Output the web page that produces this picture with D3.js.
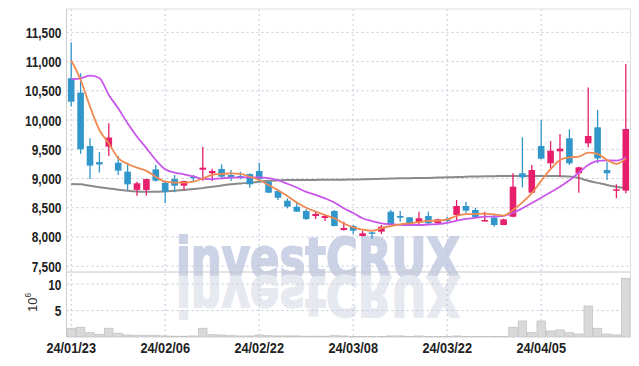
<!DOCTYPE html>
<meta charset="utf-8" />
<style>
  body { margin: 0; background: #fff; }
  .axis text { font-family: "Liberation Sans", Arial, sans-serif; font-weight: bold; fill: #222; }
</style>
<body>
<script src="https://d3js.org/d3.v7.min.js"></script>
<script>
// trading days shown (Korea, 2024)
var dates = ["24/01/23","24/01/24","24/01/25","24/01/26","24/01/29","24/01/30","24/01/31","24/02/01","24/02/02","24/02/05",
  "24/02/06","24/02/07","24/02/08","24/02/13","24/02/14","24/02/15","24/02/16","24/02/19","24/02/20","24/02/21",
  "24/02/22","24/02/23","24/02/26","24/02/27","24/02/28","24/02/29","24/03/04","24/03/05","24/03/06","24/03/07",
  "24/03/08","24/03/11","24/03/12","24/03/13","24/03/14","24/03/15","24/03/18","24/03/19","24/03/20","24/03/21",
  "24/03/22","24/03/25","24/03/26","24/03/27","24/03/28","24/03/29","24/04/01","24/04/02","24/04/03","24/04/04",
  "24/04/05","24/04/08","24/04/09","24/04/11","24/04/12","24/04/15","24/04/16","24/04/17","24/04/18","24/04/19"];

var opens  = [10715,10470,9556,9280,9544,9270,9117,8805,8803,9157, 8928,8991,8877,9030,9150,9090,9163,9060,9043,9077,
  9128,8945,8786,8620,8517,8444,8358,8324,8444,8119, 8187,8016,8078,8090,8432,8358,8336,8244,8358,8233,
  8301,8375,8529,8461,8268,8330,8204,8346,9089,8757, 9556,9260,9465,9688,9089,9602,9876,9145,8792,8792];
var closes = [10314,9500,9220,9240,9700,9135,8900,8918,8990,8962, 8774,8877,8957,9010,9185,9128,9031,9020,9010,8900,
  8986,8757,8671,8517,8432,8307,8393,8358,8187,8153, 8107,8062,8068,8175,8221,8330,8204,8319,8233,8301,
  8280,8529,8449,8336,8290,8204,8301,8860,9020,9145, 9339,9476,9510,9260,9191,9727,9345,9089,8815,9847];
var highs  = [11330,10800,9690,9450,9945,9385,9270,8945,8995,9230, 8945,9060,8960,9060,9545,9165,9243,9145,9116,9085,
  9270,8950,8820,8661,8603,8473,8432,8387,8460,8261, 8204,8107,8090,8204,8461,8444,8340,8432,8432,8310,
  8346,8632,8603,8501,8432,8375,8310,9089,9705,9231, 10000,9642,9762,9842,9200,10555,10172,9288,8900,10960];
var lows   = [10230,9420,8990,9100,9385,9060,8800,8706,8706,8950, 8580,8765,8803,8935,8962,8957,9003,8957,8986,8843,
  8945,8750,8632,8490,8430,8290,8307,8273,8180,8107, 8050,8010,7970,8050,8215,8261,8200,8204,8204,8225,
  8233,8290,8404,8330,8265,8175,8200,8336,8849,8746, 9330,9163,9031,9231,8757,9533,9260,8974,8661,8746];

// moving-average lines
var maShort = [11020,10690,10230,9830,9600,9350,9250,9185,9130,9030, 8945,8930,8928,8945,9000,9060,9077,9089,9080,9030,
  8974,8889,8800,8700,8590,8500,8432,8375,8320,8230, 8165,8125,8105,8150,8187,8216,8233,8255,8275,8278,
  8300,8360,8390,8393,8400,8385,8365,8460,8590,8750, 8960,9160,9317,9360,9375,9441,9420,9317,9250,9345];
var maMid = [10697,10714,10760,10720,10429,10200,9945,9715,9520,9317, 9160,9100,9072,9035,8995,8990,9003,9014,9020,9020,
  9020,9005,8970,8910,8845,8770,8720,8660,8590,8490, 8410,8320,8270,8233,8216,8205,8204,8204,8212,8220,
  8240,8280,8310,8325,8346,8346,8360,8410,8490,8580, 8670,8765,8860,8970,9100,9230,9300,9310,9305,9363];
var maLong = [8906,8900,8875,8852,8830,8808,8790,8778,8774,8774, 8776,8790,8805,8820,8835,8860,8880,8900,8915,8928,
  8945,8960,8968,8974,8974,8975,8976,8977,8978,8980, 8982,8985,8990,8995,9000,9003,9005,9008,9010,9015,
  9020,9025,9030,9035,9038,9040,9043,9043,9043,9043, 9043,9043,9040,9035,9010,8960,8925,8890,8860,8835];

// volume, millions of shares
var volume = [1.65,1.84,0.82,0.5,1.65,0.7,0.38,0.33,0.33,0.33, 0.2,0.15,0.15,0.2,1.65,0.44,0.38,0.25,0.2,0.2,
  0.38,0.25,0.2,0.2,0.2,0.15,0.15,0.15,0.25,0.2, 0.1,0.1,0.1,0.1,0.2,0.2,0.1,0.2,0.1,0.1,
  0.1,0.2,0.1,0.1,0.1,0.1,0.1,1.84,3.03,0.82, 3.03,1.14,1.33,0.82,0.57,5.87,1.65,0.57,0.38,11.1];

var priceTicks = [7500,8000,8500,9000,9500,10000,10500,11000,11500];
var volTicks = [5,10];

var width = 639, height = 366;
var plotLeft = 66.5, plotRight = 630.5, plotTop = 9, priceBottom = 272, volBottom = 337;

var svg = d3.select("body").append("svg").attr("width", width).attr("height", height);

var x = d3.scaleBand().domain(d3.range(dates.length)).range([plotLeft, plotRight]).padding(0);
var y = d3.scaleLinear().domain([7400, 11900]).range([priceBottom, plotTop]);
var yv = d3.scaleLinear().domain([0, 12.3]).range([volBottom, priceBottom]);
var cx = function(i) { return x(i) + x.bandwidth() / 2; };

var gridColor = "#c4c8d8";

// watermark + reflection
function mark(g, fill) {
  return g.append("text").attr("x", 176).attr("y", 277).text("investCRUX")
    .attr("font-family", "'DejaVu Sans', sans-serif").attr("font-weight", "bold")
    .attr("font-size", 56).attr("textLength", 284).attr("lengthAdjust", "spacingAndGlyphs")
    .attr("fill", fill).attr("stroke", fill).attr("stroke-width", 2);
}
var wm = svg.append("g");
mark(wm, "#ccd3e6");
mark(wm, "#e7e9f1").attr("transform", "translate(0," + (2 * 277) + ") scale(1,-1)");

// horizontal grid
svg.append("g").selectAll("line").data(priceTicks).enter().append("line")
  .attr("x1", plotLeft).attr("x2", plotRight).attr("y1", d => y(d)).attr("y2", d => y(d))
  .attr("stroke", gridColor).attr("stroke-dasharray", "2,3");
svg.append("g").selectAll("line").data(volTicks).enter().append("line")
  .attr("x1", plotLeft).attr("x2", plotRight).attr("y1", d => yv(d)).attr("y2", d => yv(d))
  .attr("stroke", gridColor).attr("stroke-dasharray", "2,3");

// vertical grid at labelled dates
var labelIdx = d3.range(0, dates.length, 10);
svg.append("g").selectAll("line").data(labelIdx).enter().append("line")
  .attr("x1", d => cx(d)).attr("x2", d => cx(d)).attr("y1", plotTop).attr("y2", volBottom)
  .attr("stroke", gridColor).attr("stroke-dasharray", "2,3");

// frame
svg.append("path").attr("d", "M" + plotLeft + "," + volBottom + "V" + plotTop + "H" + plotRight + "V" + volBottom)
  .attr("fill", "none").attr("stroke", "#ddd");
svg.append("line").attr("x1", plotLeft).attr("x2", plotRight).attr("y1", priceBottom).attr("y2", priceBottom)
  .attr("stroke", "#c8c8c8");
svg.append("line").attr("x1", plotLeft).attr("x2", plotLeft).attr("y1", plotTop).attr("y2", volBottom)
  .attr("stroke", "#ccc");

// volume bars
svg.append("g").selectAll("rect").data(volume).enter().append("rect")
  .attr("x", (d, i) => x(i) + 0.5).attr("width", x.bandwidth() - 1)
  .attr("y", d => yv(d)).attr("height", d => volBottom - yv(d))
  .attr("fill", "#d9d9d9").attr("stroke", "#c2c2c2").attr("stroke-width", 0.8);

// moving averages
var line = function(arr) {
  return d3.line().x((d, i) => cx(i)).y(d => y(d)).curve(d3.curveMonotoneX)(arr);
};
svg.append("path").attr("d", line(maLong)).attr("fill", "none").attr("stroke", "#8a8a8a").attr("stroke-width", 2);

// candles
var up = "#e61e6b", down = "#3196c9";
var isUp = i => closes[i] >= opens[i];
var candles = svg.append("g").selectAll("g").data(dates).enter().append("g");
candles.append("line")
  .attr("x1", (d, i) => cx(i)).attr("x2", (d, i) => cx(i))
  .attr("y1", (d, i) => y(highs[i])).attr("y2", (d, i) => y(lows[i]))
  .attr("stroke", (d, i) => isUp(i) ? up : down).attr("stroke-width", 1.3);
candles.append("rect")
  .attr("x", (d, i) => cx(i) - 3.3).attr("width", 6.6)
  .attr("y", (d, i) => y(Math.max(opens[i], closes[i])))
  .attr("height", (d, i) => Math.max(1.5, Math.abs(y(opens[i]) - y(closes[i]))))
  .attr("fill", (d, i) => isUp(i) ? up : down);

svg.append("path").attr("d", line(maMid)).attr("fill", "none").attr("stroke", "#c956ea").attr("stroke-width", 1.8);
svg.append("path").attr("d", line(maShort)).attr("fill", "none").attr("stroke", "#f08a50").attr("stroke-width", 1.8);

// axes (text squeezed horizontally to mimic the condensed face)
var yAxis = svg.append("g").attr("class", "axis").attr("transform", "translate(" + plotLeft + ",0)")
  .call(d3.axisLeft(y).tickValues(priceTicks).tickSize(0).tickPadding(6).tickFormat(d3.format(",")));
yAxis.select(".domain").remove();
yAxis.selectAll("text").attr("font-size", 14).attr("dy", "0.36em").attr("transform", "scale(0.85,1)");

var vAxis = svg.append("g").attr("class", "axis").attr("transform", "translate(" + plotLeft + ",0)")
  .call(d3.axisLeft(yv).tickValues(volTicks).tickSize(0).tickPadding(6));
vAxis.select(".domain").remove();
vAxis.selectAll("text").attr("font-size", 14).attr("dy", "0.36em").attr("transform", "scale(0.85,1)");

var xAxis = svg.append("g").attr("class", "axis").attr("transform", "translate(0," + volBottom + ")")
  .call(d3.axisBottom(x).tickValues(labelIdx).tickSize(0).tickPadding(5).tickFormat(i => dates[i]));
xAxis.select(".domain").remove();
xAxis.selectAll("text").attr("font-size", 15).attr("dy", "0.71em").attr("transform", "scale(0.85,1)");

// 10^6 unit label for the volume panel
var unit = svg.append("text").attr("transform", "translate(37,312) rotate(-90)")
  .attr("font-family", "'Liberation Sans', sans-serif").attr("font-size", 13).attr("fill", "#333");
unit.append("tspan").text("10");
unit.append("tspan").text("6").attr("font-size", 8.5).attr("dy", -6);
</script>
</body>
